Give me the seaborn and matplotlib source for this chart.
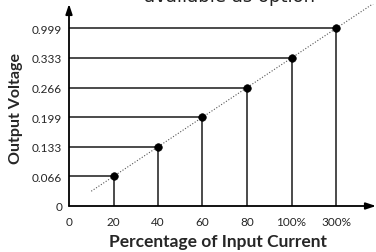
import matplotlib
matplotlib.use("Agg")
import matplotlib.pyplot as plt
import seaborn as sns
import pandas as pd

# tick labels (categorical steps)
x_labels = ["0", "20", "40", "60", "80", "100%", "300%"]
y_labels = ["0", "0.066", "0.133", "0.199", "0.266", "0.333", "0.999"]

# measured points: step index on x vs step index on y
point_x = [1, 2, 3, 4, 5, 6]
point_y = [1, 2, 3, 4, 5, 6]

# dotted reference diagonal
ref_x = [0.5, 7.0]
ref_y = [0.5, 7.0]

sns.set_style("white")
plt.rcParams["font.family"] = ["Lato", "DejaVu Sans"]

W, H = 376, 253
fig = plt.figure(figsize=(W / 100, H / 100), dpi=100)
x0, y0 = 69, 207  # pixel origin
ax = fig.add_axes([x0 / W, (H - y0) / H, (W - x0) / W, (y0 - 5) / H])
ax.set_xlim(0, (W - x0) / 44.5)
ax.set_ylim(0, (y0 - 5) / 29.6)

pts = pd.DataFrame({"x": point_x, "y": point_y})

for xi, yi in zip(point_x, point_y):
    ax.plot([0, xi], [yi, yi], color="#1a1a1a", lw=1.1, zorder=2)
    ax.plot([xi, xi], [0, yi], color="#1a1a1a", lw=1.1, zorder=2)

sns.lineplot(x=ref_x, y=ref_y, ax=ax, color="#555555", lw=0.8,
             linestyle=(0, (1, 1.6)), zorder=1)
sns.scatterplot(data=pts, x="x", y="y", ax=ax, color="black", s=30,
                edgecolor="black", zorder=3)

for s in ax.spines.values():
    s.set_visible(False)

# axes with arrow heads
ax.annotate("", xy=(1.0, 0), xytext=(0, 0), xycoords="axes fraction",
            arrowprops=dict(arrowstyle="-|>,head_length=0.6,head_width=0.2",
                            color="black", lw=1.3, shrinkA=0, shrinkB=0))
ax.annotate("", xy=(0, 1.0), xytext=(0, 0), xycoords="axes fraction",
            arrowprops=dict(arrowstyle="-|>,head_length=0.6,head_width=0.2",
                            color="black", lw=1.3, shrinkA=0, shrinkB=0))

ax.set_xticks(range(len(x_labels)))
ax.set_xticklabels(x_labels, fontsize=8.5)
ax.set_yticks(range(len(y_labels)))
ax.set_yticklabels(y_labels, fontsize=8.5)
ax.tick_params(axis="y", length=0, pad=5)
ax.tick_params(axis="x", length=0, pad=7)
ax.set_xlabel("")
ax.set_ylabel("")

fig.text(218 / W, (H - 242) / H, "Percentage of Input Current",
         fontsize=12.5, fontweight="bold", ha="center", va="center")
fig.text(16 / W, (H - 109) / H, "Output Voltage", rotation=90,
         fontsize=11.5, fontweight="bold", ha="center", va="center")
# caption cut by the top edge, as in the source image
fig.text(229 / W, (H - 2.5) / H, "available as option",
         fontsize=13, ha="center", va="baseline", color="#222222",
         family="DejaVu Sans")

fig.savefig("out.png", dpi=100)
